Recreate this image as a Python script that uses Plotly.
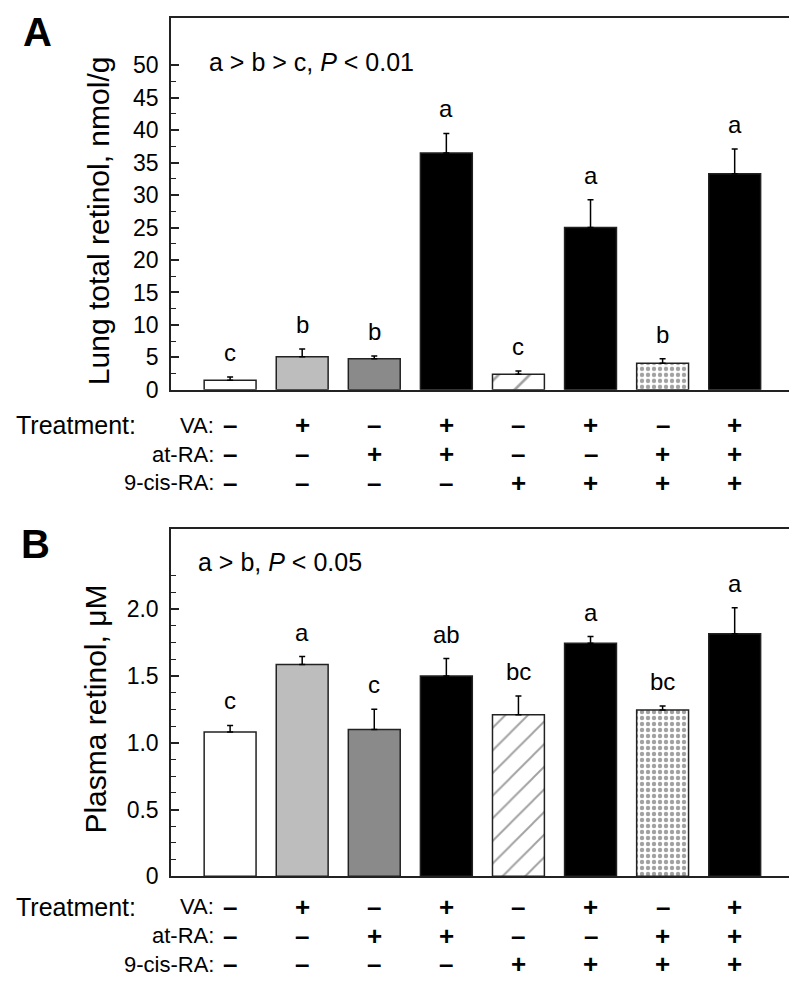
import plotly.graph_objects as go

# ---------------- data ----------------
groups = list(range(8))
lung_mean = [1.5, 5.1, 4.8, 36.5, 2.4, 25.0, 4.1, 33.3]
lung_err = [0.5, 1.2, 0.4, 3.0, 0.5, 4.3, 0.7, 3.8]
lung_letters = ["c", "b", "b", "a", "c", "a", "b", "a"]

plasma_mean = [1.08, 1.585, 1.10, 1.50, 1.21, 1.745, 1.245, 1.815]
plasma_err = [0.05, 0.06, 0.15, 0.13, 0.14, 0.05, 0.03, 0.195]
plasma_letters = ["c", "a", "c", "ab", "bc", "a", "bc", "a"]

va = ["–", "+", "–", "+", "–", "+", "–", "+"]
at_ra = ["–", "–", "+", "+", "–", "–", "+", "+"]
cis_ra = ["–", "–", "–", "–", "+", "+", "+", "+"]
row_labels = ["VA:", "at-RA:", "9-cis-RA:"]

lung_ticks = [0, 5, 10, 15, 20, 25, 30, 35, 40, 45, 50]
plasma_ticks = [0, 0.5, 1.0, 1.5, 2.0]
plasma_ticktext = ["0", "0.5", "1.0", "1.5", "2.0"]

bar_colors = ["white", "#bdbdbd", "#8a8a8a", "black", "white", "black", "white", "black"]
bar_patterns = ["", "", "", "", "/", "", ".", ""]

W, H = 797, 981
FONT = "Liberation Sans, Arial, sans-serif"


def py(px):
    return 1 - px / H


fig = go.Figure()


def add_bars(means, errs, xa, ya, hatch_size):
    fig.add_trace(go.Bar(
        x=groups, y=means, xaxis=xa, yaxis=ya, width=0.72,
        marker=dict(
            color=bar_colors,
            line=dict(color="#222222", width=1.5),
            pattern=dict(shape=bar_patterns, fgcolor="black", bgcolor="white",
                         size=[8, 8, 8, 8, hatch_size, 8, 6, 8],
                         solidity=[0.2, 0.2, 0.2, 0.2, 0.12, 0.2, 0.42, 0.2]),
        ),
        error_y=dict(type="data", array=errs, arrayminus=[0] * 8, symmetric=False,
                     color="black", thickness=1.5, width=3),
        showlegend=False, hoverinfo="skip",
    ))


add_bars(lung_mean, lung_err, "x", "y", 22)
add_bars(plasma_mean, plasma_err, "x2", "y2", 16)

lung_minor = [t + 2.5 for t in lung_ticks[:-1]]
plasma_minor = [k * 0.125 for k in range(1, 19) if k % 4 != 0]

xdom = [163 / W, 793 / W]
axis_common = dict(showline=True, linecolor="#222222", linewidth=1.5, mirror=True,
                   showgrid=False, zeroline=False)

fig.update_layout(
    width=W, height=H, margin=dict(l=0, r=0, t=0, b=0),
    plot_bgcolor="white", paper_bgcolor="white",
    font=dict(family=FONT, color="black"),
    xaxis=dict(domain=xdom, anchor="y", range=[-0.82, 7.92], showticklabels=False,
               ticks="", **axis_common),
    yaxis=dict(domain=[py(387), py(10)], anchor="x", range=[0, 57.3],
               tickvals=lung_ticks, ticks="inside", ticklen=8, tickwidth=1.5,
               tickcolor="#222222", tickfont=dict(size=23, family=FONT), ticklabelstandoff=6,
               minor=dict(tickvals=lung_minor, ticks="inside", ticklen=5, tickwidth=1.2,
                          tickcolor="#222222"),
               **axis_common),
    xaxis2=dict(domain=xdom, anchor="y2", range=[-0.82, 7.92], showticklabels=False,
                ticks="", **axis_common),
    yaxis2=dict(domain=[py(880), py(528)], anchor="x2", range=[0, 2.6],
                tickvals=plasma_ticks, ticktext=plasma_ticktext,
                ticks="inside", ticklen=8, tickwidth=1.5, tickcolor="#222222",
                tickfont=dict(size=23, family=FONT), ticklabelstandoff=6,
                minor=dict(tickvals=plasma_minor, ticks="inside", ticklen=5, tickwidth=1.2,
                           tickcolor="#222222"),
                **axis_common),
)

ann = []
C = dict(xanchor="center", yanchor="middle", showarrow=False)
# significance letters
for i in groups:
    ann.append(dict(x=i, y=lung_mean[i] + lung_err[i], xref="x", yref="y", text=lung_letters[i],
                    showarrow=False, xanchor="center", yanchor="bottom", yshift=9,
                    font=dict(size=24)))
    ann.append(dict(x=i, y=plasma_mean[i] + plasma_err[i], xref="x2", yref="y2",
                    text=plasma_letters[i], showarrow=False, xanchor="center", yanchor="bottom",
                    yshift=9, font=dict(size=24)))

# panel letters
ann.append(dict(x=29 / W, y=1.0, xref="paper", yref="paper", text="<b>A</b>",
                xanchor="center", yanchor="top", showarrow=False, font=dict(size=40)))
ann.append(dict(x=27 / W, y=py(519), xref="paper", yref="paper", text="<b>B</b>",
                xanchor="center", yanchor="top", showarrow=False, font=dict(size=40)))

# stats text
ann.append(dict(x=199 / W, y=py(55), xref="paper", yref="paper", xanchor="left", yanchor="middle",
                text="a > b > c, <i>P</i> < 0.01", showarrow=False, font=dict(size=25)))
ann.append(dict(x=188 / W, y=py(561), xref="paper", yref="paper", xanchor="left", yanchor="middle",
                text="a > b, <i>P</i> < 0.05", showarrow=False, font=dict(size=25)))

# y axis titles
ann.append(dict(x=90 / W, y=py(216), xref="paper", yref="paper", text="Lung total retinol, nmol/g",
                textangle=-90, font=dict(size=30), **C))
ann.append(dict(x=88 / W, y=py(711), xref="paper", yref="paper", text="Plasma retinol, μM",
                textangle=-90, font=dict(size=30), **C))

# treatment tables
for xa, rows_y in (("x", [423, 452, 481]), ("x2", [911, 940, 969])):
    ann.append(dict(x=6 / W, y=py(rows_y[0]), xref="paper", yref="paper", xanchor="left",
                    yanchor="middle", text="Treatment:", showarrow=False, font=dict(size=25)))
    for lab, ry in zip(row_labels, rows_y):
        ann.append(dict(x=208 / W, y=py(ry), xref="paper", yref="paper", xanchor="right",
                        yanchor="middle", text=lab, showarrow=False, font=dict(size=22)))
    for syms, ry in zip((va, at_ra, cis_ra), rows_y):
        for i in groups:
            ann.append(dict(x=i, y=py(ry), xref=xa, yref="paper", text="<b>" + syms[i] + "</b>",
                            font=dict(size=26), **C))

fig.update_layout(annotations=ann)
fig.write_html("out.html")
